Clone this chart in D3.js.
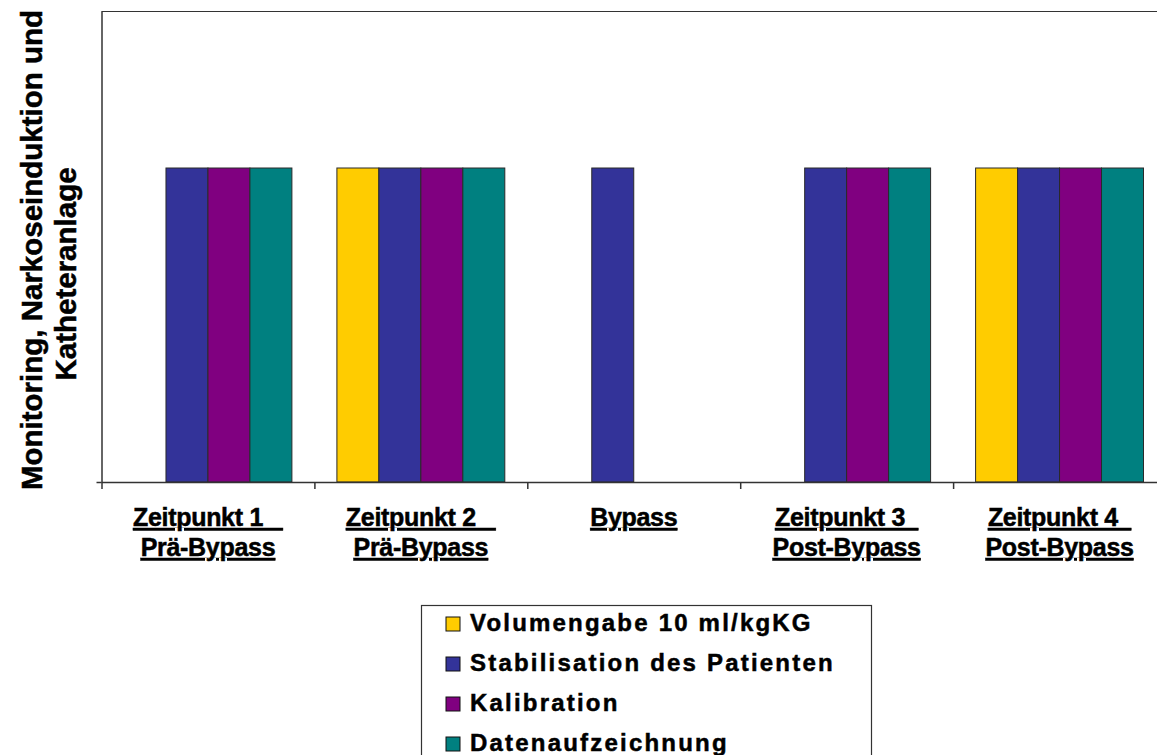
<!DOCTYPE html>
<html>
<head>
<meta charset="utf-8">
<script src="https://cdn.jsdelivr.net/npm/d3@7"></script>
<style>
  body { margin: 0; background: #fff; }
  svg text { font-family: "Liberation Sans", Arial, sans-serif; font-weight: bold; fill: #000;
             stroke: #000; stroke-width: 0.5px; }
</style>
</head>
<body>
<svg id="chart" width="1157" height="755"></svg>
<script>
// Kategorien (zwei Zeilen je Beschriftung, Leerzeichen werden mit unterstrichen)
var v_CatLine1 = ["Zeitpunkt 1   ", "Zeitpunkt 2   ", "Bypass", "Zeitpunkt 3  ", "Zeitpunkt 4  "];
var v_CatLine2 = ["Prä-Bypass", "Prä-Bypass", "", "Post-Bypass", "Post-Bypass"];

// Reihen
var v_Series = ["Volumengabe 10 ml/kgKG", "Stabilisation des Patienten", "Kalibration", "Datenaufzeichnung"];
var v_Colors = ["#FFCC00", "#333399", "#800080", "#008080"];

// Werte je Reihe (1 = Schritt durchgeführt, 0 = nicht)
var v_Volumen       = [0, 1, 0, 0, 1];
var v_Stabilisation = [1, 1, 1, 1, 1];
var v_Kalibration   = [1, 1, 0, 1, 1];
var v_Daten         = [1, 1, 0, 1, 1];

var v_YMax = 1.5;
var v_YTitle = ["Monitoring, Narkoseinduktion und", "Katheteranlage"];

var v_Values = [v_Volumen, v_Stabilisation, v_Kalibration, v_Daten];

var v_SVG    = d3.select("#chart");
var v_Left   = 101.5;
var v_Top    = 11;
var v_Bottom = 482;
var v_Right  = 1166;

// Skalen
var v_X0 = d3.scaleBand().domain(d3.range(v_CatLine1.length)).range([v_Left, v_Right]).padding(0);
var v_X1 = d3.scaleBand().domain(d3.range(v_Series.length)).range([0, v_X0.bandwidth()])
             .paddingInner(0).paddingOuter(0.536);
var v_Y  = d3.scaleLinear().domain([0, v_YMax]).range([v_Bottom, v_Top]);

// Rahmen oben
v_SVG.append("line")
    .attr("x1", v_Left).attr("x2", 1157)
    .attr("y1", v_Top + 0.5).attr("y2", v_Top + 0.5)
    .attr("stroke", "#333").attr("stroke-width", 1.2);

// Balken
var v_Groups = v_SVG.append("g").selectAll("g")
    .data(v_CatLine1.map(function (d, i) { return i; }))
    .join("g")
    .attr("transform", function (i) { return "translate(" + v_X0(i) + ",0)"; });

v_Groups.selectAll("rect")
    .data(function (i) {
        return v_Series.map(function (s, k) { return { k: k, v: v_Values[k][i] }; })
                       .filter(function (d) { return d.v > 0; });
    })
    .join("rect")
    .attr("x", function (d) { return v_X1(d.k); })
    .attr("y", function (d) { return v_Y(d.v); })
    .attr("width", v_X1.bandwidth())
    .attr("height", function (d) { return v_Y(0) - v_Y(d.v); })
    .attr("fill", function (d) { return v_Colors[d.k]; })
    .attr("stroke", "#2a2a2a")
    .attr("stroke-width", 1);

// X-Achse mit Teilstrichen an den Kategoriegrenzen
var v_XAxis = d3.axisBottom(d3.scaleLinear().domain([0, v_CatLine1.length]).range([v_Left, v_Right]))
    .tickValues(d3.range(v_CatLine1.length + 1))
    .tickFormat("")
    .tickSizeInner(7)
    .tickSizeOuter(0);

v_SVG.append("g")
    .attr("transform", "translate(0," + v_Bottom + ")")
    .call(v_XAxis)
    .call(function (g) {
        g.select(".domain").attr("stroke", "#333").attr("stroke-width", 1.5);
        g.selectAll(".tick line").attr("stroke", "#333").attr("stroke-width", 1.5);
    });

// Y-Achse (ohne Beschriftung)
var v_YAxis = d3.axisLeft(v_Y).tickValues([0]).tickFormat("").tickSizeInner(5).tickSizeOuter(0);
v_SVG.append("g")
    .attr("transform", "translate(" + v_Left + ",0)")
    .call(v_YAxis)
    .call(function (g) {
        g.select(".domain").attr("stroke", "#333").attr("stroke-width", 1.5);
        g.selectAll(".tick line").attr("stroke", "#333").attr("stroke-width", 1.5);
    });

// Kategoriebeschriftungen
var v_Labels = v_SVG.append("g");
v_CatLine1.forEach(function (t, i) {
    var cx = v_X0(i) + v_X0.bandwidth() / 2;
    [t, v_CatLine2[i]].forEach(function (s, j) {
        if (!s) return;
        v_Labels.append("text")
            .attr("x", cx)
            .attr("y", 526 + j * 30)
            .attr("text-anchor", "middle")
            .attr("xml:space", "preserve")
            .style("white-space", "pre")
            .style("text-decoration", "underline")
            .style("font-size", "25px")
            .style("letter-spacing", "-0.3px")
            .text(s);
    });
});

// Y-Achsentitel
var v_TitleCY = [250, 274];
v_YTitle.forEach(function (t, j) {
    v_SVG.append("text")
        .attr("transform", "translate(" + (42 + j * 34) + "," + v_TitleCY[j] + ") rotate(-90)")
        .attr("text-anchor", "middle")
        .style("font-size", "29.5px")
        .text(t);
});

// Legende
var v_Legend = v_SVG.append("g");
v_Legend.append("rect")
    .attr("x", 421.5).attr("y", 605.5)
    .attr("width", 450).attr("height", 200)
    .attr("fill", "#fff")
    .attr("stroke", "#333")
    .attr("stroke-width", 1.2);

var v_Rows = v_Legend.selectAll("g.item")
    .data(v_Series)
    .join("g")
    .attr("class", "item")
    .attr("transform", function (d, i) { return "translate(446," + (631 + i * 40) + ")"; });

v_Rows.append("rect")
    .attr("x", 0).attr("y", -14)
    .attr("width", 14).attr("height", 14)
    .attr("fill", function (d, i) { return v_Colors[i]; })
    .attr("stroke", "#111")
    .attr("stroke-width", 1);

v_Rows.append("text")
    .attr("x", 24)
    .attr("y", 0)
    .style("font-size", "24px")
    .style("letter-spacing", "2.2px")
    .text(function (d) { return d; });
</script>
</body>
</html>
